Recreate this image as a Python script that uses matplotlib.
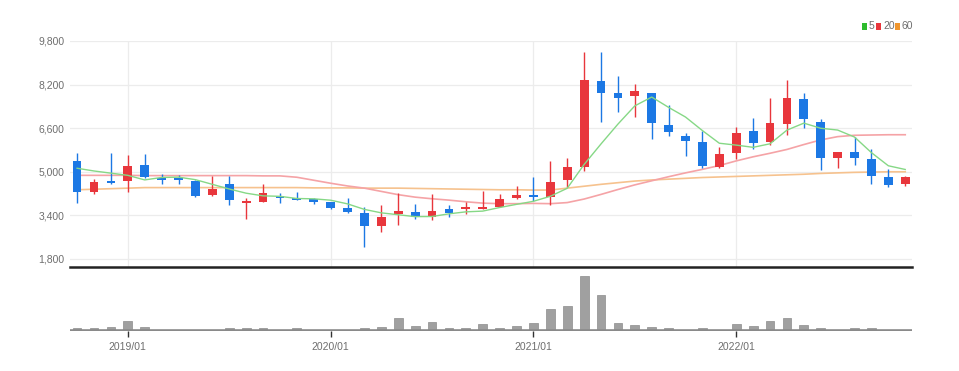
import numpy as np
import pandas as pd
import matplotlib
matplotlib.use('Agg')
from matplotlib import pyplot as plt
from matplotlib.patches import Rectangle

# monthly candles 2018/10 .. 2022/11
months = pd.period_range('2018-10', '2022-11', freq='M')
month_labels = [m.strftime('%Y/%m') for m in months]

opens = [5400, 4250, 4674, 4663, 5250, 4762, 4760, 4663, 4149, 4553,
         3866, 3903, 4123, 4028, 3990, 3881, 3661, 3477, 3011, 3451,
         3536, 3352, 3624, 3624, 3650, 3719, 4028, 4149, 4087, 4700,
         5165, 8333, 7881, 7793, 7881, 6718, 6314, 6105, 5165, 5679,
         6509, 6105, 6743, 7661, 6839, 5496, 5738, 5470, 4798, 4542]
highs = [5680, 4740, 5680, 5617, 5654, 4920, 4880, 4700, 4846, 4846,
         4028, 4553, 4211, 4270, 4028, 3900, 4028, 3719, 3782, 4211,
         3818, 4174, 3782, 3903, 4307, 4186, 4490, 4798, 5408, 5496,
         9408, 9386, 8527, 8212, 7900, 7452, 6435, 6509, 5921, 6655,
         6964, 7698, 8369, 7904, 6938, 5740, 6266, 5826, 5092, 4830]
lows = [3844, 4200, 4550, 4270, 4770, 4540, 4550, 4080, 4110, 3782,
        3257, 3880, 3866, 3950, 3820, 3650, 3477, 2229, 2802, 3048,
        3257, 3230, 3352, 3451, 3624, 3697, 4000, 3940, 3782, 4453,
        5041, 6839, 7206, 7000, 6204, 6325, 5591, 5151, 5150, 5452,
        5826, 5984, 6350, 6597, 5066, 5129, 5250, 4553, 4453, 4480]
closes = [4250, 4640, 4578, 5224, 4820, 4700, 4700, 4112, 4369, 3965,
          3929, 4211, 4028, 3965, 3905, 3683, 3536, 3011, 3330, 3562,
          3330, 3562, 3500, 3697, 3697, 3991, 4138, 4064, 4615, 5165,
          8369, 7904, 7698, 7966, 6780, 6472, 6131, 5213, 5642, 6435,
          6068, 6780, 7720, 6927, 5496, 5738, 5496, 4857, 4516, 4820]
# volume (10k shares)
volumes = [27, 27, 43, 100, 40, 10, 10, 10, 10, 30,
           27, 30, 10, 27, 10, 10, 10, 27, 43, 130,
           50, 90, 27, 30, 73, 30, 47, 77, 223, 250,
           550, 357, 77, 57, 40, 27, 13, 30, 13, 73,
           47, 97, 127, 57, 27, 13, 27, 30, 13, 0]

# moving average lines as drawn
ma5 = [5130, 5030, 4950, 4870, 4702, 4792, 4804, 4711, 4540, 4369,
       4215, 4117, 4100, 4020, 4008, 3958, 3823, 3620, 3493, 3424,
       3354, 3359, 3457, 3530, 3557, 3689, 3805, 3917, 4101, 4395,
       5270, 6023, 6750, 7420, 7743, 7364, 7009, 6512, 6048, 5979,
       5898, 6028, 6529, 6786, 6598, 6532, 6275, 5703, 5221, 5085]
ma20 = [4870, 4870, 4870, 4870, 4860, 4860, 4860, 4860, 4860, 4860,
        4860, 4850, 4850, 4800, 4690, 4580, 4480, 4400, 4280, 4160,
        4070, 4010, 3960, 3900, 3850, 3830, 3830, 3840, 3830, 3870,
        4000, 4170, 4350, 4520, 4670, 4820, 4960, 5090, 5230, 5400,
        5550, 5680, 5820, 6000, 6170, 6290, 6340, 6350, 6360, 6360]
ma60 = [4340, 4360, 4380, 4400, 4420, 4420, 4420, 4420, 4420, 4420,
        4420, 4420, 4420, 4420, 4410, 4410, 4410, 4400, 4400, 4400,
        4390, 4380, 4370, 4360, 4350, 4340, 4340, 4330, 4330, 4400,
        4470, 4540, 4600, 4660, 4700, 4730, 4760, 4790, 4810, 4830,
        4850, 4870, 4890, 4910, 4940, 4960, 4980, 4990, 5000, 5000]

price_ticks = [1800, 3400, 5000, 6600, 8200, 9800]

UP = '#e8363c'
DOWN = '#1c78e4'
GRID = '#ececec'
TXT = '#6e6e6e'
FONT = ['Liberation Sans Narrow', 'Liberation Sans', 'DejaVu Sans']

plt.rcParams['font.family'] = FONT

W, H = 959, 371
fig = plt.figure(figsize=(W / 100, H / 100), dpi=100)
ax = fig.add_axes([70 / W, 1 - 267 / H, 842 / W, 226 / H])
axv = fig.add_axes([70 / W, 1 - 331 / H, 842 / W, 62 / H])

x = np.arange(len(months))
o = np.array(opens)
c = np.array(closes)
colors = [UP if cc >= oo else DOWN for oo, cc in zip(o, c)]
body_lo = np.minimum(o, c)
body_h = np.maximum(np.abs(c - o), 60)

ax.vlines(x, lows, highs, colors=colors, lw=1.0, zorder=3)
ax.bar(x, body_h, bottom=body_lo, width=0.52, color=colors, zorder=4)

ax.plot(x, ma60, color='#f6c28e', lw=1.2, zorder=2)
ax.plot(x, ma20, color='#f5a3a6', lw=1.2, zorder=2)
ax.plot(x, ma5, color='#86d886', lw=1.0, zorder=5)

year_idx = [i for i, m in enumerate(months) if m.month == 1]

xlim = (-0.42, 49.4)
ax.set_xlim(*xlim)
ax.set_ylim(1506, 9800)
ax.set_yticks(price_ticks)
ax.set_yticklabels([f'{v:,}' for v in price_ticks])
ax.set_xticks(year_idx)
ax.set_xticklabels([])
ax.tick_params(axis='both', length=0, labelsize=7.5, labelcolor=TXT, pad=4)
ax.grid(True, color=GRID, lw=0.9, zorder=0)
for s in ['top', 'right', 'left']:
    ax.spines[s].set_visible(False)
ax.spines['bottom'].set_color('#222222')
ax.spines['bottom'].set_linewidth(1.8)

# volume panel
axv.bar(x, volumes, width=0.52, color='#a0a0a0', edgecolor='#8c8c8c', lw=0.5, zorder=2)
axv.axhline(0, color='#8a8a8a', lw=2.6, zorder=3)
axv.set_xlim(*xlim)
axv.set_ylim(0, max(volumes) * 1.13)
axv.set_yticks([])
axv.set_xticks(year_idx)
axv.set_xticklabels([month_labels[i] for i in year_idx])
axv.tick_params(axis='x', length=4, width=1, color='#333333', labelsize=7.5,
                labelcolor=TXT, pad=4)
for s in axv.spines.values():
    s.set_visible(False)

# legend: (label, colour, square x, text x) in pixels
leg = [('5', '#2dbb2d', 862, 869), ('20', '#e8363c', 876, 883), ('60', '#f0962e', 895, 902)]
for lab, col, sx, tx in leg:
    fig.patches.append(Rectangle((sx / W, 1 - 30 / H), 5 / W, 7 / H,
                                 transform=fig.transFigure, color=col, lw=0))
    fig.text(tx / W, 1 - 26 / H, lab, color=TXT, fontsize=7.5, va='center', ha='left')

fig.savefig('out.png', dpi=100, facecolor='white')
